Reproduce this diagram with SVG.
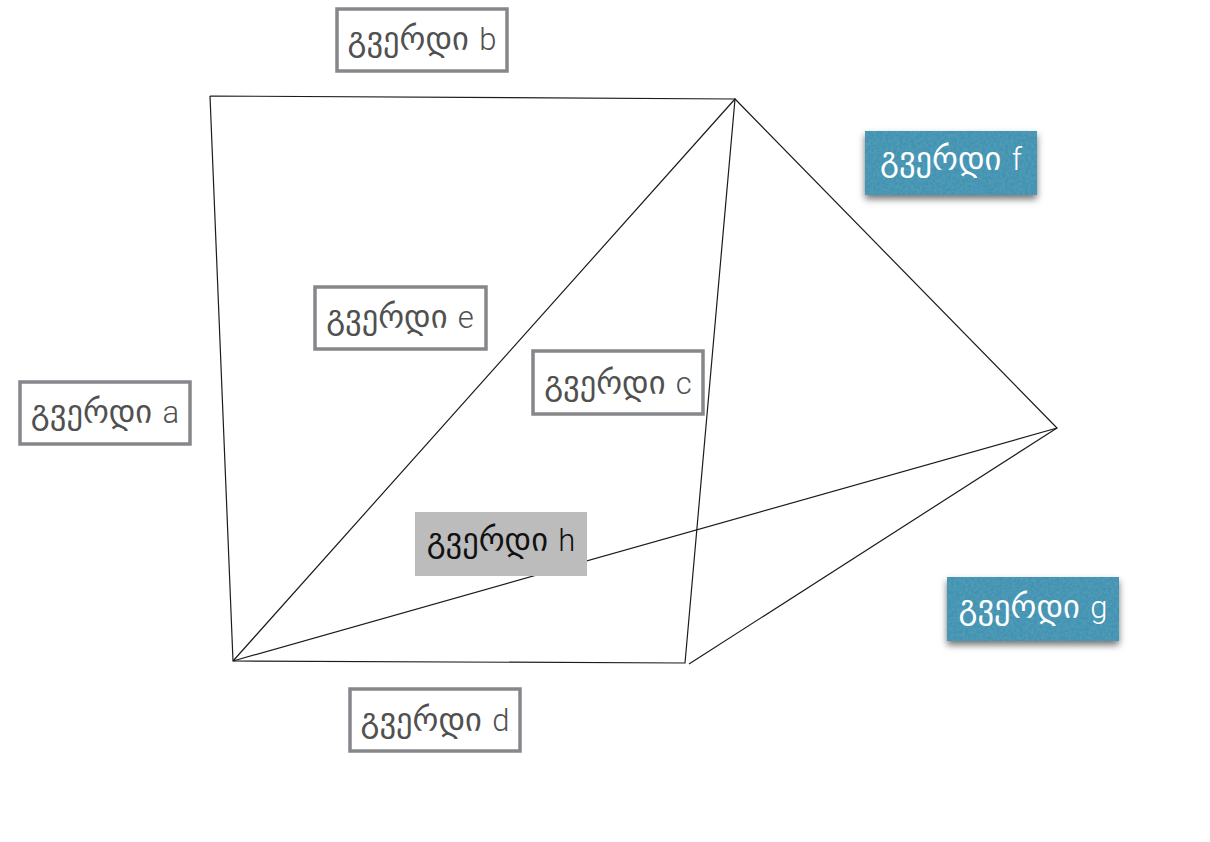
<svg xmlns="http://www.w3.org/2000/svg" width="1210" height="842" viewBox="0 0 1210 842">
<style>
.ln{fill:none;stroke:#1c1c1c;stroke-width:1.2}
.box{fill:#fff;stroke:#85878a;stroke-width:3.5}
.t{font-family:"DejaVu Sans",sans-serif;font-size:32.5px;text-anchor:middle}
.l{font-family:Roboto,"Liberation Sans",sans-serif;font-size:31px;font-weight:300}
.g{fill:#505050}
.w{fill:#fff}
.k{fill:#111}
</style>
<defs>
<filter id="shadow" x="-10%" y="-20%" width="120%" height="150%"><feDropShadow dx="0" dy="4" stdDeviation="3.5" flood-color="#000" flood-opacity="0.55"/></filter>
<filter id="tex" x="0" y="0" width="100%" height="100%"><feTurbulence type="fractalNoise" baseFrequency="0.35" numOctaves="2" seed="4"/><feColorMatrix type="matrix" values="0 0 0 0 0.08  0 0 0 0 0.33  0 0 0 0 0.47  2.6 0 0 0 -0.8"/><feComposite in2="SourceGraphic" operator="in"/><feMerge><feMergeNode in="SourceGraphic"/><feMergeNode/></feMerge></filter>
</defs>
<g id="connectors">
<path class="ln" d="M210 96L735 99L685 663L233 661L210 96"/>
<path class="ln" d="M233 661L735 99L1057 428L233 661"/>
<path class="ln" d="M1057 428L689 664"/>
</g>
<g id="node-b"><rect class="box" x="337" y="9" width="170" height="62"/><text class="t g" x="422" y="50">გვერდი <tspan class="l">b</tspan></text></g>
<g id="node-f"><g filter="url(#shadow)"><rect x="865" y="131" width="172" height="64" fill="#4292b2" filter="url(#tex)"/></g><text class="t w" x="951" y="170">გვერდი <tspan class="l">f</tspan></text></g>
<g id="node-e"><rect class="box" x="315" y="287" width="171" height="62"/><text class="t g" x="400" y="328">გვერდი <tspan class="l">e</tspan></text></g>
<g id="node-c"><rect class="box" x="533" y="351" width="170" height="63"/><text class="t g" x="618" y="394">გვერდი <tspan class="l">c</tspan></text></g>
<g id="node-a"><rect class="box" x="20" y="382" width="170" height="62"/><text class="t g" x="105" y="423">გვერდი <tspan class="l">a</tspan></text></g>
<g id="node-h"><rect x="415" y="512" width="172" height="64" fill="#bcbcbc"/><text class="t k" x="501" y="551">გვერდი <tspan class="l">h</tspan></text></g>
<g id="node-g"><g filter="url(#shadow)"><rect x="947" y="577" width="172" height="64" fill="#4292b2" filter="url(#tex)"/></g><text class="t w" x="1033" y="618">გვერდი <tspan class="l">g</tspan></text></g>
<g id="node-d"><rect class="box" x="350" y="689" width="170" height="62"/><text class="t g" x="435" y="731">გვერდი <tspan class="l">d</tspan></text></g>
</svg>
